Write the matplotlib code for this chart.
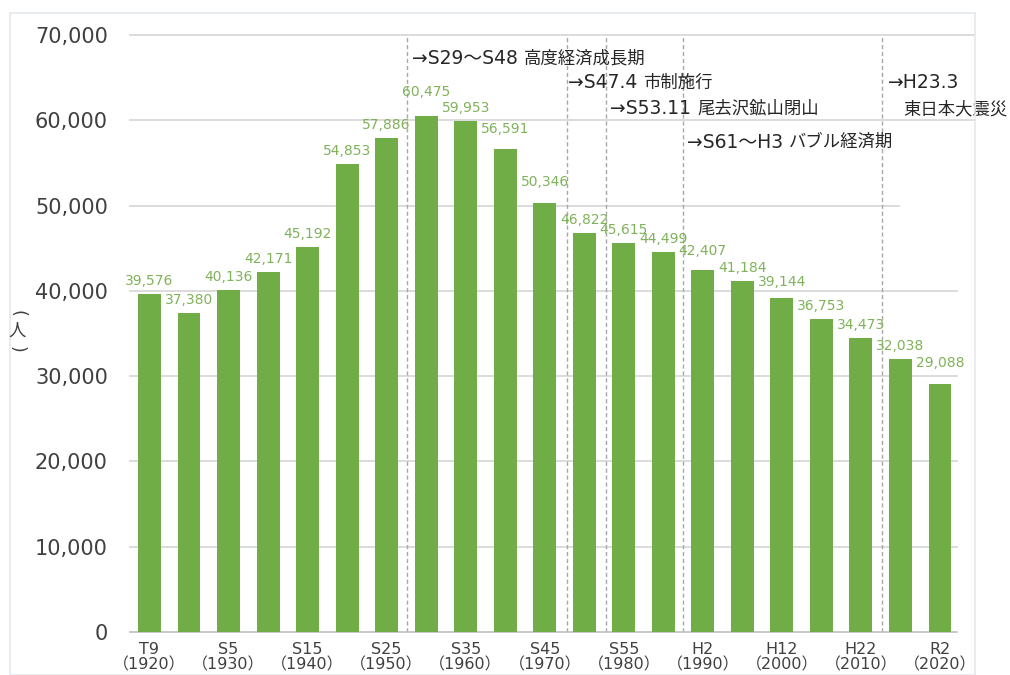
import matplotlib.pyplot as plt
from matplotlib.patches import Rectangle

plt.rcParams['font.family'] = ['DejaVu Sans', 'Noto Sans CJK JP']

era = ['T9', 'T14', 'S5', 'S10', 'S15', 'S22', 'S25', 'S30', 'S35', 'S40', 'S45',
       'S50', 'S55', 'S60', 'H2', 'H7', 'H12', 'H17', 'H22', 'H27', 'R2']
years = [1920, 1925, 1930, 1935, 1940, 1947, 1950, 1955, 1960, 1965, 1970,
         1975, 1980, 1985, 1990, 1995, 2000, 2005, 2010, 2015, 2020]
population = [39576, 37380, 40136, 42171, 45192, 54853, 57886, 60475, 59953, 56591, 50346,
              46822, 45615, 44499, 42407, 41184, 39144, 36753, 34473, 32038, 29088]

event_head = ['→S29～S48 ', '→S47.4 ', '→S53.11 ', '→S61～H3 ', '→H23.3', '']
event_body = ['高度経済成長期', '市制施行', '尾去沢鉱山閉山', 'バブル経済期', '', '東日本大震災']

W, H = 1010, 675


def fx(x):
    return x / W


def fy(y):
    return 1 - y / H


fig = plt.figure(figsize=(10.1, 6.75), dpi=100)
ax = fig.add_axes([fx(130), fy(632), fx(957) - fx(130), fy(35) - fy(632)])

# light frame around the chart
fig.patches.append(Rectangle((fx(10), 0), fx(975) - fx(10), fy(13), transform=fig.transFigure,
                             fill=False, edgecolor='#e4e9ed', lw=1.2))

green = '#70AD47'
x = list(range(len(population)))
ax.bar(x, population, width=0.58, color=green, zorder=3)

# label lift above bar top (pixels), a few labels were nudged up in the original
lift = {7: 17, 9: 13, 10: 14, 14: 12, 16: 9, 20: 14}
for xi, v in zip(x, population):
    ax.annotate(f'{v:,}', (xi, v), xytext=(0, lift.get(xi, 6) * 0.72), textcoords='offset points',
                ha='center', va='bottom', fontsize=10, color='#80b25a', zorder=4)

ax.set_xlim(-0.493, 20.43)
ax.set_ylim(0, 70000)

# gridlines
for yv in range(10000, 70001, 10000):
    xmax = 1.0
    if yv >= 60000:
        xmax = (975 - 130) / (957 - 130)
    elif yv == 50000:
        xmax = (899 - 130) / (957 - 130)
    ax.axhline(yv, xmin=0, xmax=xmax, color='#d9d9d9', lw=1.3, zorder=1, clip_on=False)

# event lines
for ex in [6.52, 10.57, 11.56, 13.5, 18.53]:
    ax.axvline(ex, color='#a8a8a8', lw=1, dashes=(3, 2), zorder=2)

ax.set_yticks(range(0, 70001, 10000))
ax.set_yticklabels([f'{v:,}' for v in range(0, 70001, 10000)], fontsize=15, color='#404040')
ax.set_xticks(x[::2])
ax.set_xticklabels([f'{e}\n（{y}）' for e, y in zip(era[::2], years[::2])],
                   fontsize=11.5, color='#404040', linespacing=1.05)
ax.tick_params(axis='y', length=0, pad=16)
ax.tick_params(axis='x', length=0, pad=7)

for s in ['top', 'right', 'left']:
    ax.spines[s].set_visible(False)
ax.spines['bottom'].set_color('#bfbfbf')
ax.spines['bottom'].set_linewidth(1.2)

# y label written vertically: （人） with the brackets turned
fig.text(fx(17), fy(313), '(', ha='center', va='center', fontsize=12.5, rotation=-90,
         color='#404040')
fig.text(fx(17), fy(331), '人', ha='center', va='center', fontsize=12.5,
         color='#404040', family=['Noto Sans CJK JP'])
fig.text(fx(17), fy(349), ')', ha='center', va='center', fontsize=12.5, rotation=-90,
         color='#404040')

# annotations: latin part slightly larger than the japanese part, as in the original
pos = [(412, 58), (568, 83), (610, 108), (687, 142), (888, 82), (903, 109)]
for head, body, (px, py) in zip(event_head, event_body, pos):
    t = fig.text(fx(px), fy(py), head, ha='left', va='center', fontsize=13.5, color='#262626')
    if body:
        ax.annotate(body, xy=(1, 0.5), xycoords=t, ha='left', va='center',
                    fontsize=12.5, color='#262626', family=['Noto Sans CJK JP'],
                    annotation_clip=False)

fig.savefig('out.png', dpi=100, facecolor='white')
